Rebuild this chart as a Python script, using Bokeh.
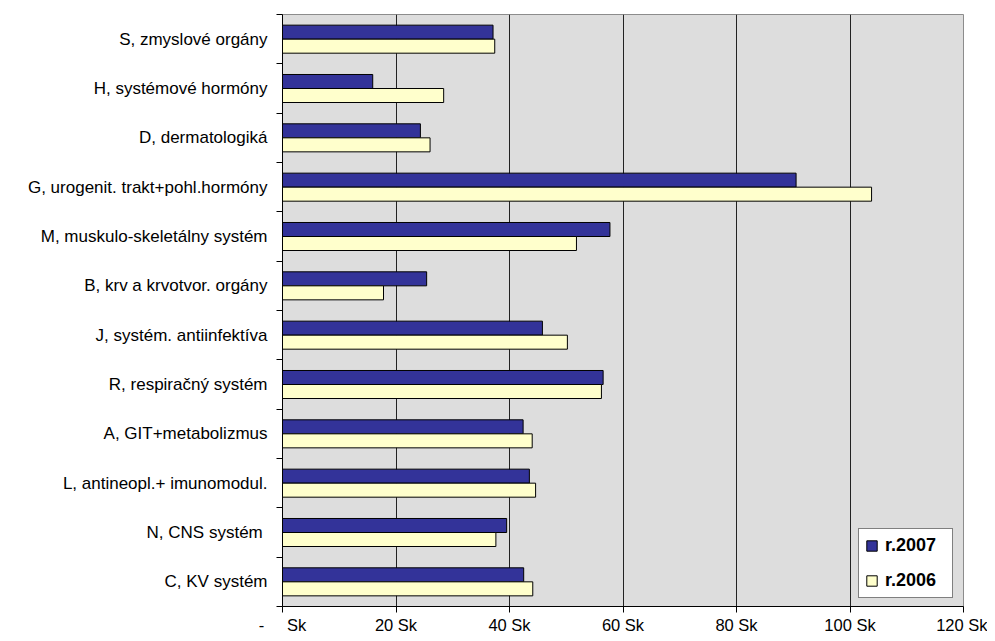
from bokeh.plotting import figure
from bokeh.models import (Range1d, FixedTicker, Grid, Legend, LegendItem,
                          ColumnDataSource)
from bokeh.transform import dodge
from bokeh.embed import file_html
from bokeh.resources import INLINE

# ---- data (bottom to top, as drawn) ----
categories = [
    "C, KV systém",
    "N, CNS systém ",
    "L, antineopl.+ imunomodul.",
    "A, GIT+metabolizmus",
    "R, respiračný systém",
    "J, systém. antiinfektíva",
    "B, krv a krvotvor. orgány",
    "M, muskulo-skeletálny systém",
    "G, urogenit. trakt+pohl.hormóny",
    "D, dermatologiká",
    "H, systémové hormóny",
    "S, zmyslové orgány",
]
v2007 = [42.5, 39.5, 43.5, 42.4, 56.5, 45.8, 25.4, 57.7, 90.5, 24.3, 15.9, 37.1]
v2006 = [44.1, 37.6, 44.6, 44.0, 56.2, 50.2, 17.8, 51.8, 103.8, 26.0, 28.4, 37.4]
series_names = ["r.2007", "r.2006"]
x_ticks = [0, 20, 40, 60, 80, 100, 120]
x_tick_labels = ["-\u00a0\u00a0\u00a0\u00a0\u00a0Sk", "20 Sk", "40 Sk", "60 Sk",
                 "80 Sk", "100 Sk", "120 Sk"]

FONT = "Liberation Sans"

centers = [i + 0.5 for i in range(len(categories))]
source = ColumnDataSource(dict(y=centers, cat=categories, v2007=v2007, v2006=v2006))

p = figure(width=987, height=636, output_backend="svg", toolbar_location=None,
           x_range=Range1d(0, 120), y_range=Range1d(0, len(categories)),
           min_border_left=282, min_border_right=24, min_border_top=14,
           min_border_bottom=20)

p.background_fill_color = "#DDDDDD"
p.border_fill_color = "white"
p.outline_line_color = "#8C8C8C"
p.outline_line_width = 1

r07 = p.hbar(y=dodge("y", 0.142, range=p.y_range), right="v2007", left=0,
             height=0.284, source=source, fill_color="#333399",
             line_color="black", line_width=1)
r06 = p.hbar(y=dodge("y", -0.142, range=p.y_range), right="v2006", left=0,
             height=0.284, source=source, fill_color="#FFFFCC",
             line_color="black", line_width=1)

# grid
p.xgrid.visible = False
p.ygrid.visible = False
p.add_layout(Grid(dimension=0, ticker=FixedTicker(ticks=x_ticks[1:-1]),
                  grid_line_color="#222222", grid_line_width=1))

# x axis
xa = p.xaxis[0]
xa.ticker = FixedTicker(ticks=x_ticks)
xa.major_label_overrides = {t: l for t, l in zip(x_ticks, x_tick_labels)}
xa.major_label_text_font = FONT
xa.major_label_text_font_size = "16.5px"
xa.major_label_text_color = "black"
xa.major_label_standoff = 3
xa.major_tick_out = 6
xa.major_tick_in = 0
xa.minor_tick_line_color = None
xa.axis_line_color = "black"
xa.major_tick_line_color = "black"

# y axis: labels at centers, ticks at category boundaries
ya = p.yaxis[0]
ya.ticker = FixedTicker(ticks=centers, minor_ticks=list(range(len(categories) + 1)))
ya.major_label_overrides = {c: n for c, n in zip(centers, categories)}
ya.major_label_text_font = FONT
ya.major_label_text_font_size = "17px"
ya.major_label_text_color = "black"
ya.major_label_standoff = 9
ya.major_tick_out = 0
ya.major_tick_in = 0
ya.major_tick_line_color = None
ya.minor_tick_out = 6
ya.minor_tick_in = 0
ya.minor_tick_line_color = "black"
ya.axis_line_color = "black"

legend = Legend(items=[LegendItem(label=series_names[0], renderers=[r07]),
                       LegendItem(label=series_names[1], renderers=[r06])],
                location=(576, 8))
legend.label_text_font = FONT
legend.label_text_font_size = "18px"
legend.label_text_font_style = "bold"
legend.label_text_color = "black"
legend.glyph_width = 13
legend.glyph_height = 13
legend.label_standoff = 7
legend.label_height = 20
legend.label_width = 61
legend.spacing = 14
legend.padding = 6
legend.margin = 0
legend.border_line_color = "black"
legend.border_line_width = 1
legend.background_fill_color = "white"
legend.background_fill_alpha = 1
p.add_layout(legend)

open("out.html", "w").write(file_html(p, INLINE))
